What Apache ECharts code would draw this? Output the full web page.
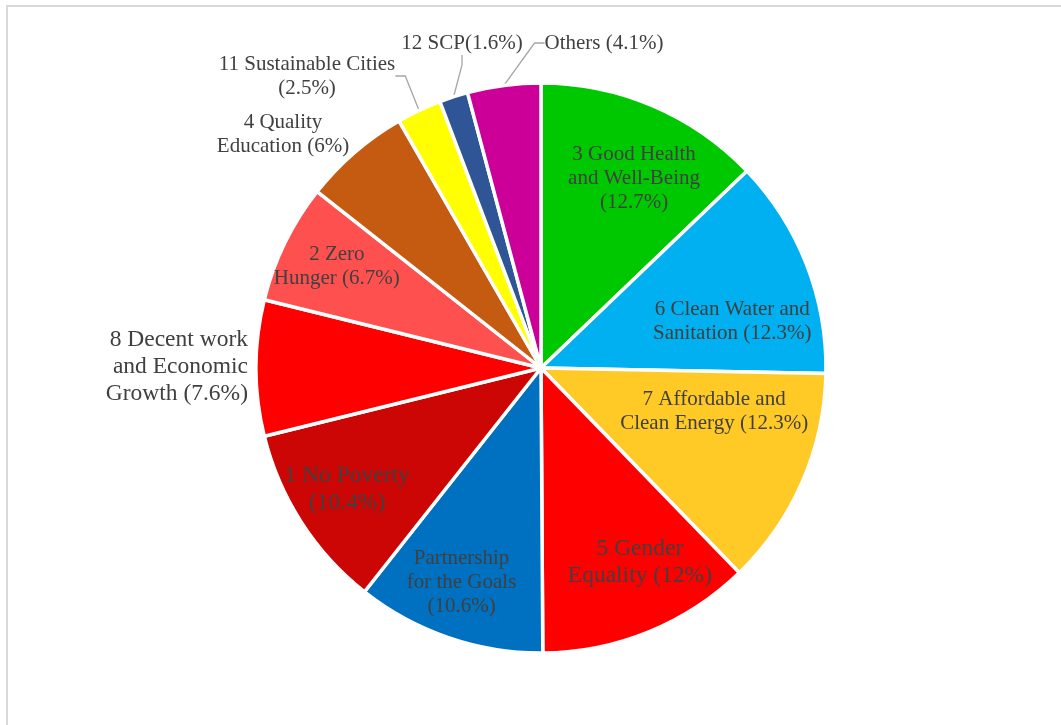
<!DOCTYPE html>
<html>
<head>
    <meta charset="utf-8">
    <title>SDG share</title>
    <script src="https://cdn.jsdelivr.net/npm/echarts@6/dist/echarts.min.js"></script>
    <style>
        body { margin: 0; background: #fff; }
    </style>
</head>
<body>
    <div id="main" style="width: 1061px;height:725px;"></div>
    <script>
        // slices clockwise from 12 o'clock
        var categories = ['3 Good Health', '6 Clean Water', '7 Affordable Energy', '5 Gender Equality',
            'Partnership', '1 No Poverty', '8 Decent work', '2 Zero Hunger', '4 Quality Education',
            '11 Sustainable Cities', '12 SCP', 'Others'];
        var shares = [12.7, 12.3, 12.3, 12, 10.6, 10.4, 7.6, 6.7, 6, 2.5, 1.6, 4.1];
        var labelTexts = [
            '3 Good Health\nand Well-Being\n(12.7%)',
            '6 Clean Water and\nSanitation (12.3%)',
            '7 Affordable and\nClean Energy (12.3%)',
            '5 Gender\nEquality (12%)',
            'Partnership\nfor the Goals\n(10.6%)',
            '1 No Poverty\n(10.4%)',
            '8 Decent work\nand Economic\nGrowth (7.6%)',
            '2 Zero\nHunger (6.7%)',
            '4 Quality\nEducation (6%)',
            '11 Sustainable Cities\n(2.5%)',
            '12 SCP(1.6%)',
            'Others (4.1%)'
        ];
        var outsideNames = ['8 Decent work', '4 Quality Education', '11 Sustainable Cities', '12 SCP', 'Others'];

        var colors = ['#00C800', '#00B0F0', '#FFC926', '#FF0000', '#0070C0', '#CC0605',
            '#FF0000', '#FF5050', '#C55A11', '#FFFF00', '#2F5597', '#CC0099'];
        var bigText = ['5 Gender Equality', '1 No Poverty', '8 Decent work'];
        var leader = ['11 Sustainable Cities', '12 SCP', 'Others'];

        // small tweaks so the inner labels sit where Excel put them
        var nudge = {
            '3 Good Health': [9, 7], '6 Clean Water': [-8, 31], '7 Affordable Energy': [-23, -42],
            '5 Gender Equality': [18, -4], 'Partnership': [-10, 12], '1 No Poverty': [-14, 5], '2 Zero Hunger': [-12, -8]
        };
        // outer labels, placed by hand as in the original
        var spots = {
            '8 Decent work': { x: 248, y: 367, align: 'right' },
            '4 Quality Education': { x: 283, y: 134, align: 'center' },
            '11 Sustainable Cities': { x: 307, y: 76, align: 'center' },
            '12 SCP': { x: 462, y: 43, align: 'center' },
            'Others': { x: 604, y: 43, align: 'center' }
        };

        var R = 285;
        var textBase = { fontFamily: 'Liberation Serif', color: '#404040', textBorderWidth: 0 };

        function labelFor(i, show) {
            var big = bigText.indexOf(categories[i]) >= 0;
            return Object.assign({}, textBase, {
                show: show,
                formatter: labelTexts[i],
                fontSize: big ? 23.5 : 21,
                lineHeight: big ? 27 : 24
            });
        }

        var mainData = categories.map(function (n, i) {
            var out = outsideNames.indexOf(n) >= 0;
            return {
                name: n, value: shares[i],
                itemStyle: { color: colors[i] },
                label: labelFor(i, out),
                labelLine: { show: leader.indexOf(n) >= 0 }
            };
        });
        var overlayData = categories.map(function (n, i) {
            var out = outsideNames.indexOf(n) >= 0;
            return { name: n, value: shares[i], label: labelFor(i, !out) };
        });

        var myChart = echarts.init(document.getElementById('main'));
        var option = {
            animation: false,
            backgroundColor: '#fff',
            graphic: [{
                type: 'rect', silent: true,
                shape: { x: 7, y: 6, width: 1200, height: 900 },
                style: { fill: 'none', stroke: '#d9d9d9', lineWidth: 2 }
            }],
            series: [{
                type: 'pie',
                center: [541, 368],
                radius: R,
                startAngle: 90,
                clockwise: true,
                avoidLabelOverlap: false,
                silent: true,
                itemStyle: { borderColor: '#fff', borderWidth: 3.5 },
                label: { position: 'outside' },
                labelLine: { lineStyle: { color: '#a6a6a6', width: 1.3 }, length: 10, length2: 10 },
                labelLayout: function (p) {
                    var s = spots[categories[p.dataIndex]];
                    if (!s) return {};
                    return { x: s.x, y: s.y, align: s.align, verticalAlign: 'middle' };
                },
                data: mainData
            }, {
                // transparent twin, only used to push the inner labels outward
                type: 'pie',
                center: [541, 368],
                radius: R * 1.48,
                startAngle: 90,
                clockwise: true,
                silent: true,
                avoidLabelOverlap: false,
                itemStyle: { color: 'rgba(0,0,0,0)', borderWidth: 0 },
                label: { position: 'inside' },
                labelLine: { show: false },
                labelLayout: function (p) {
                    var d = nudge[categories[p.dataIndex]];
                    if (!d) return {};
                    return { dx: d[0], dy: d[1] };
                },
                data: overlayData
            }]
        };
        myChart.setOption(option);
    </script>
</body>
</html>
